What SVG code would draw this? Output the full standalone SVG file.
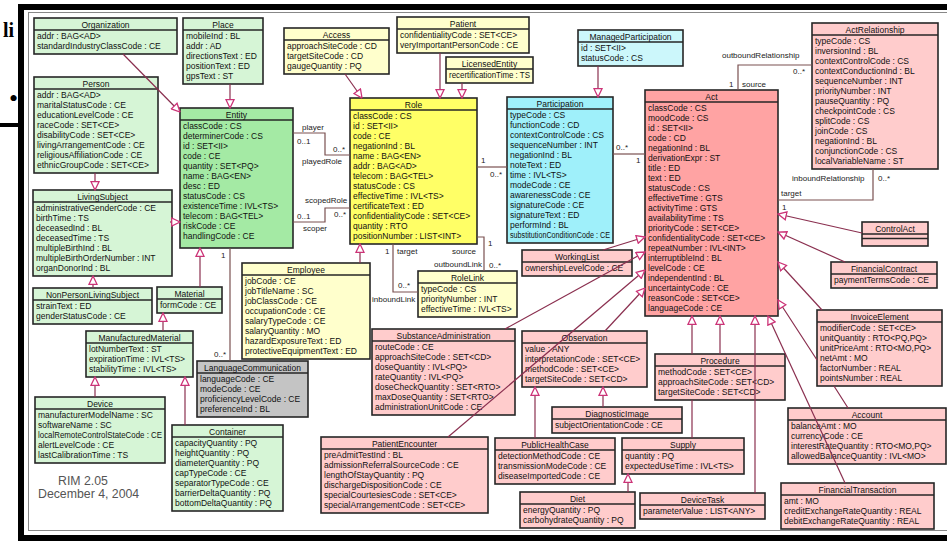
<svg xmlns="http://www.w3.org/2000/svg" width="947" height="541" viewBox="0 0 947 541">
<style>
  .node rect { stroke: #262626; stroke-width: 1.6; }
  .node path { stroke: #262626; stroke-width: 1.3; fill: none; }
  .g rect { fill: #d6f5d6; }
  .ge rect { fill: #a4eaa4; }
  .y rect { fill: #ffffcc; }
  .yr rect { fill: #ffff66; }
  .c rect { fill: #ccf7fb; }
  .cp rect { fill: #9ff0fa; }
  .p rect { fill: #ffcccc; }
  .pa rect { fill: #ffa3a3; }
  .gr rect { fill: #c4c4c4; }
  text.h, text.a { font-family: "Liberation Sans", Arial, sans-serif; font-size: 8.5px; fill: #111; }
  text.h { text-anchor: middle; }
  .gen { stroke: #8a2f4f; stroke-width: 1.2; fill: none; marker-end: url(#tri); }
  .asc { stroke: #7a5050; stroke-width: 1.2; fill: none; }
  .lb { font-family: "Liberation Sans", Arial, sans-serif; font-size: 8px; fill: #222; }
  .note { font-family: "Liberation Sans", Arial, sans-serif; font-size: 12.3px; fill: #555; }
</style>
<defs>
  <marker id="tri" markerUnits="userSpaceOnUse" markerWidth="10" markerHeight="10" viewBox="0 0 10 10" refX="9.3" refY="5" orient="auto">
    <path d="M1,1 L9.3,5 L1,9 Z" fill="#fff" stroke="#cc3377" stroke-width="1.3"/>
  </marker>
</defs>

<!-- page background and slide remnants -->
<rect width="947" height="541" fill="#fff"/>
<text x="3" y="37" font-family="Liberation Serif, serif" font-weight="bold" font-size="20" fill="#000">li</text>
<text x="9" y="107" font-family="Liberation Serif, serif" font-size="26" fill="#000">•</text>
<rect x="0" y="123" width="22" height="4" fill="#000"/>

<!-- frame -->
<rect x="21" y="7" width="935" height="531" fill="#fff" stroke="#000" stroke-width="6"/>
<rect x="28.5" y="12.5" width="925" height="518" fill="none" stroke="#888" stroke-width="1"/>

<!-- Entity hierarchy -->
<g id="n-organization" class="node g" transform="translate(34 18)"><rect width="143" height="36"/><path d="M0 12H143"/><text class="h" x="71.5" y="9.5">Organization</text><text class="a" y="21"><tspan x="3">addr : BAG&lt;AD&gt;</tspan><tspan x="3" dy="10">standardIndustryClassCode : CE</tspan></text></g>

<g id="n-person" class="node g" transform="translate(34 77)"><rect width="124" height="96"/><path d="M0 12H124"/><text class="h" x="62" y="9.5">Person</text><text class="a" y="21"><tspan x="3">addr : BAG&lt;AD&gt;</tspan><tspan x="3" dy="10">maritalStatusCode : CE</tspan><tspan x="3" dy="10">educationLevelCode : CE</tspan><tspan x="3" dy="10">raceCode : SET&lt;CE&gt;</tspan><tspan x="3" dy="10">disabilityCode : SET&lt;CE&gt;</tspan><tspan x="3" dy="10">livingArrangementCode : CE</tspan><tspan x="3" dy="10">religiousAffiliationCode : CE</tspan><tspan x="3" dy="10">ethnicGroupCode : SET&lt;CE&gt;</tspan></text></g>

<g id="n-place" class="node g" transform="translate(183 18)"><rect width="80" height="66"/><path d="M0 12H80"/><text class="h" x="40" y="9.5">Place</text><text class="a" y="21"><tspan x="3">mobileInd : BL</tspan><tspan x="3" dy="10">addr : AD</tspan><tspan x="3" dy="10">directionsText : ED</tspan><tspan x="3" dy="10">positionText : ED</tspan><tspan x="3" dy="10">gpsText : ST</tspan></text></g>

<g id="n-entity" class="node ge" transform="translate(180 108)"><rect width="113" height="140"/><path d="M0 12H113"/><text class="h" x="56.5" y="9.5">Entity</text><text class="a" y="21"><tspan x="3">classCode : CS</tspan><tspan x="3" dy="10">determinerCode : CS</tspan><tspan x="3" dy="10">id : SET&lt;II&gt;</tspan><tspan x="3" dy="10">code : CE</tspan><tspan x="3" dy="10">quantity : SET&lt;PQ&gt;</tspan><tspan x="3" dy="10">name : BAG&lt;EN&gt;</tspan><tspan x="3" dy="10">desc : ED</tspan><tspan x="3" dy="10">statusCode : CS</tspan><tspan x="3" dy="10">existenceTime : IVL&lt;TS&gt;</tspan><tspan x="3" dy="10">telecom : BAG&lt;TEL&gt;</tspan><tspan x="3" dy="10">riskCode : CE</tspan><tspan x="3" dy="10">handlingCode : CE</tspan></text></g>

<g id="n-livingSubject" class="node g" transform="translate(33 190)"><rect width="139" height="86"/><path d="M0 12H139"/><text class="h" x="69.5" y="9.5">LivingSubject</text><text class="a" y="21"><tspan x="3">administrativeGenderCode : CE</tspan><tspan x="3" dy="10">birthTime : TS</tspan><tspan x="3" dy="10">deceasedInd : BL</tspan><tspan x="3" dy="10">deceasedTime : TS</tspan><tspan x="3" dy="10">multipleBirthInd : BL</tspan><tspan x="3" dy="10">multipleBirthOrderNumber : INT</tspan><tspan x="3" dy="10">organDonorInd : BL</tspan></text></g>

<g id="n-nonPersonLivingSubject" class="node g" transform="translate(33 288)"><rect width="119" height="36"/><path d="M0 12H119"/><text class="h" x="59.5" y="9.5">NonPersonLivingSubject</text><text class="a" y="21"><tspan x="3">strainText : ED</tspan><tspan x="3" dy="10">genderStatusCode : CE</tspan></text></g>

<g id="n-material" class="node g" transform="translate(157 287)"><rect width="65" height="26"/><path d="M0 12H65"/><text class="h" x="32.5" y="9.5">Material</text><text class="a" y="21"><tspan x="3">formCode : CE</tspan></text></g>

<g id="n-manufacturedMaterial" class="node g" transform="translate(86 331)"><rect width="107" height="46"/><path d="M0 12H107"/><text class="h" x="53.5" y="9.5">ManufacturedMaterial</text><text class="a" y="21"><tspan x="3">lotNumberText : ST</tspan><tspan x="3" dy="10">expirationTime : IVL&lt;TS&gt;</tspan><tspan x="3" dy="10">stabilityTime : IVL&lt;TS&gt;</tspan></text></g>

<g id="n-device" class="node g" transform="translate(35 397)"><rect width="130" height="66"/><path d="M0 12H130"/><text class="h" x="65" y="9.5">Device</text><text class="a" y="21"><tspan x="3">manufacturerModelName : SC</tspan><tspan x="3" dy="10">softwareName : SC</tspan><tspan x="3" dy="10" textLength="124" lengthAdjust="spacingAndGlyphs">localRemoteControlStateCode : CE</tspan><tspan x="3" dy="10">alertLevelCode : CE</tspan><tspan x="3" dy="10">lastCalibrationTime : TS</tspan></text></g>

<g id="n-container" class="node g" transform="translate(172 425)"><rect width="111" height="86"/><path d="M0 12H111"/><text class="h" x="55.5" y="9.5">Container</text><text class="a" y="21"><tspan x="3">capacityQuantity : PQ</tspan><tspan x="3" dy="10">heightQuantity : PQ</tspan><tspan x="3" dy="10">diameterQuantity : PQ</tspan><tspan x="3" dy="10">capTypeCode : CE</tspan><tspan x="3" dy="10">separatorTypeCode : CE</tspan><tspan x="3" dy="10">barrierDeltaQuantity : PQ</tspan><tspan x="3" dy="10">bottomDeltaQuantity : PQ</tspan></text></g>

<g id="n-languageCommunication" class="node gr" transform="translate(197 361)"><rect width="111" height="56"/><path d="M0 12H111"/><text class="h" x="55.5" y="9.5">LanguageCommunication</text><text class="a" y="21"><tspan x="3">languageCode : CE</tspan><tspan x="3" dy="10">modeCode : CE</tspan><tspan x="3" dy="10">proficiencyLevelCode : CE</tspan><tspan x="3" dy="10">preferenceInd : BL</tspan></text></g>

<!-- Role hierarchy -->
<g id="n-access" class="node y" transform="translate(284 28)"><rect width="105" height="46"/><path d="M0 12H105"/><text class="h" x="52.5" y="9.5">Access</text><text class="a" y="21"><tspan x="3">approachSiteCode : CD</tspan><tspan x="3" dy="10">targetSiteCode : CD</tspan><tspan x="3" dy="10">gaugeQuantity : PQ</tspan></text></g>

<g id="n-patient" class="node y" transform="translate(397 17)"><rect width="132" height="36"/><path d="M0 12H132"/><text class="h" x="66" y="9.5">Patient</text><text class="a" y="21"><tspan x="3">confidentialityCode : SET&lt;CE&gt;</tspan><tspan x="3" dy="10">veryImportantPersonCode : CE</tspan></text></g>

<g id="n-licensedEntity" class="node y" transform="translate(446 57)"><rect width="87" height="26"/><path d="M0 12H87"/><text class="h" x="43.5" y="9.5">LicensedEntity</text><text class="a" y="21"><tspan x="3" textLength="81" lengthAdjust="spacingAndGlyphs">recertificationTime : TS</tspan></text></g>

<g id="n-role" class="node yr" transform="translate(350 98)"><rect width="127" height="146"/><path d="M0 12H127"/><text class="h" x="63.5" y="9.5">Role</text><text class="a" y="21"><tspan x="3">classCode : CS</tspan><tspan x="3" dy="10">id : SET&lt;II&gt;</tspan><tspan x="3" dy="10">code : CE</tspan><tspan x="3" dy="10">negationInd : BL</tspan><tspan x="3" dy="10">name : BAG&lt;EN&gt;</tspan><tspan x="3" dy="10">addr : BAG&lt;AD&gt;</tspan><tspan x="3" dy="10">telecom : BAG&lt;TEL&gt;</tspan><tspan x="3" dy="10">statusCode : CS</tspan><tspan x="3" dy="10">effectiveTime : IVL&lt;TS&gt;</tspan><tspan x="3" dy="10">certificateText : ED</tspan><tspan x="3" dy="10">confidentialityCode : SET&lt;CE&gt;</tspan><tspan x="3" dy="10">quantity : RTO</tspan><tspan x="3" dy="10">positionNumber : LIST&lt;INT&gt;</tspan></text></g>

<g id="n-employee" class="node y" transform="translate(242 263)"><rect width="128" height="96"/><path d="M0 12H128"/><text class="h" x="64" y="9.5">Employee</text><text class="a" y="21"><tspan x="3">jobCode : CE</tspan><tspan x="3" dy="10">jobTitleName : SC</tspan><tspan x="3" dy="10">jobClassCode : CE</tspan><tspan x="3" dy="10">occupationCode : CE</tspan><tspan x="3" dy="10">salaryTypeCode : CE</tspan><tspan x="3" dy="10">salaryQuantity : MO</tspan><tspan x="3" dy="10">hazardExposureText : ED</tspan><tspan x="3" dy="10">protectiveEquipmentText : ED</tspan></text></g>

<g id="n-roleLink" class="node y" transform="translate(418 271)"><rect width="99" height="46"/><path d="M0 12H99"/><text class="h" x="49.5" y="9.5">RoleLink</text><text class="a" y="21"><tspan x="3">typeCode : CS</tspan><tspan x="3" dy="10">priorityNumber : INT</tspan><tspan x="3" dy="10">effectiveTime : IVL&lt;TS&gt;</tspan></text></g>

<!-- Participation -->
<g id="n-managedParticipation" class="node c" transform="translate(578 30)"><rect width="105" height="36"/><path d="M0 12H105"/><text class="h" x="52.5" y="9.5">ManagedParticipation</text><text class="a" y="21"><tspan x="3">id : SET&lt;II&gt;</tspan><tspan x="3" dy="10">statusCode : CS</tspan></text></g>

<g id="n-participation" class="node cp" transform="translate(507 97)"><rect width="106" height="146"/><path d="M0 12H106"/><text class="h" x="53" y="9.5">Participation</text><text class="a" y="21"><tspan x="3">typeCode : CS</tspan><tspan x="3" dy="10">functionCode : CD</tspan><tspan x="3" dy="10">contextControlCode : CS</tspan><tspan x="3" dy="10">sequenceNumber : INT</tspan><tspan x="3" dy="10">negationInd : BL</tspan><tspan x="3" dy="10">noteText : ED</tspan><tspan x="3" dy="10">time : IVL&lt;TS&gt;</tspan><tspan x="3" dy="10">modeCode : CE</tspan><tspan x="3" dy="10">awarenessCode : CE</tspan><tspan x="3" dy="10">signatureCode : CE</tspan><tspan x="3" dy="10">signatureText : ED</tspan><tspan x="3" dy="10">performInd : BL</tspan><tspan x="3" dy="10" textLength="100" lengthAdjust="spacingAndGlyphs">substitutionConditionCode : CE</tspan></text></g>

<!-- Act hierarchy -->
<g id="n-act" class="node pa" transform="translate(645 90)"><rect width="133" height="226"/><path d="M0 12H133"/><text class="h" x="66.5" y="9.5">Act</text><text class="a" y="21"><tspan x="3">classCode : CS</tspan><tspan x="3" dy="10">moodCode : CS</tspan><tspan x="3" dy="10">id : SET&lt;II&gt;</tspan><tspan x="3" dy="10">code : CD</tspan><tspan x="3" dy="10">negationInd : BL</tspan><tspan x="3" dy="10">derivationExpr : ST</tspan><tspan x="3" dy="10">title : ED</tspan><tspan x="3" dy="10">text : ED</tspan><tspan x="3" dy="10">statusCode : CS</tspan><tspan x="3" dy="10">effectiveTime : GTS</tspan><tspan x="3" dy="10">activityTime : GTS</tspan><tspan x="3" dy="10">availabilityTime : TS</tspan><tspan x="3" dy="10">priorityCode : SET&lt;CE&gt;</tspan><tspan x="3" dy="10">confidentialityCode : SET&lt;CE&gt;</tspan><tspan x="3" dy="10">repeatNumber : IVL&lt;INT&gt;</tspan><tspan x="3" dy="10">interruptibleInd : BL</tspan><tspan x="3" dy="10">levelCode : CE</tspan><tspan x="3" dy="10">independentInd : BL</tspan><tspan x="3" dy="10">uncertaintyCode : CE</tspan><tspan x="3" dy="10">reasonCode : SET&lt;CE&gt;</tspan><tspan x="3" dy="10">languageCode : CE</tspan></text></g>

<g id="n-actRelationship" class="node p" transform="translate(812 23)"><rect width="126" height="146"/><path d="M0 12H126"/><text class="h" x="63" y="9.5">ActRelationship</text><text class="a" y="21"><tspan x="3">typeCode : CS</tspan><tspan x="3" dy="10">inversionInd : BL</tspan><tspan x="3" dy="10">contextControlCode : CS</tspan><tspan x="3" dy="10">contextConductionInd : BL</tspan><tspan x="3" dy="10">sequenceNumber : INT</tspan><tspan x="3" dy="10">priorityNumber : INT</tspan><tspan x="3" dy="10">pauseQuantity : PQ</tspan><tspan x="3" dy="10">checkpointCode : CS</tspan><tspan x="3" dy="10">splitCode : CS</tspan><tspan x="3" dy="10">joinCode : CS</tspan><tspan x="3" dy="10">negationInd : BL</tspan><tspan x="3" dy="10">conjunctionCode : CS</tspan><tspan x="3" dy="10">localVariableName : ST</tspan></text></g>

<g id="n-controlAct" class="node p" transform="translate(862 222)"><rect width="66" height="24"/><path d="M0 12H66M0 16.5H66"/><text class="h" x="33" y="9.5">ControlAct</text></g>

<g id="n-financialContract" class="node p" transform="translate(831 262)"><rect width="106" height="26"/><path d="M0 12H106"/><text class="h" x="53" y="9.5">FinancialContract</text><text class="a" y="21"><tspan x="3">paymentTermsCode : CE</tspan></text></g>

<g id="n-invoiceElement" class="node p" transform="translate(817 310)"><rect width="125" height="76"/><path d="M0 12H125"/><text class="h" x="62.5" y="9.5">InvoiceElement</text><text class="a" y="21"><tspan x="3">modifierCode : SET&lt;CE&gt;</tspan><tspan x="3" dy="10">unitQuantity : RTO&lt;PQ,PQ&gt;</tspan><tspan x="3" dy="10">unitPriceAmt : RTO&lt;MO,PQ&gt;</tspan><tspan x="3" dy="10">netAmt : MO</tspan><tspan x="3" dy="10">factorNumber : REAL</tspan><tspan x="3" dy="10">pointsNumber : REAL</tspan></text></g>

<g id="n-account" class="node p" transform="translate(788 408)"><rect width="158" height="56"/><path d="M0 12H158"/><text class="h" x="79" y="9.5">Account</text><text class="a" y="21"><tspan x="3">balanceAmt : MO</tspan><tspan x="3" dy="10">currencyCode : CE</tspan><tspan x="3" dy="10">interestRateQuantity : RTO&lt;MO,PQ&gt;</tspan><tspan x="3" dy="10">allowedBalanceQuantity : IVL&lt;MO&gt;</tspan></text></g>

<g id="n-financialTransaction" class="node p" transform="translate(781 483)"><rect width="153" height="46"/><path d="M0 12H153"/><text class="h" x="76.5" y="9.5">FinancialTransaction</text><text class="a" y="21"><tspan x="3">amt : MO</tspan><tspan x="3" dy="10">creditExchangeRateQuantity : REAL</tspan><tspan x="3" dy="10">debitExchangeRateQuantity : REAL</tspan></text></g>

<g id="n-procedure" class="node p" transform="translate(655 354)"><rect width="130" height="46"/><path d="M0 12H130"/><text class="h" x="65" y="9.5">Procedure</text><text class="a" y="21"><tspan x="3">methodCode : SET&lt;CE&gt;</tspan><tspan x="3" dy="10">approachSiteCode : SET&lt;CD&gt;</tspan><tspan x="3" dy="10">targetSiteCode : SET&lt;CD&gt;</tspan></text></g>

<g id="n-supply" class="node p" transform="translate(622 438)"><rect width="122" height="36"/><path d="M0 12H122"/><text class="h" x="61" y="9.5">Supply</text><text class="a" y="21"><tspan x="3">quantity : PQ</tspan><tspan x="3" dy="10">expectedUseTime : IVL&lt;TS&gt;</tspan></text></g>

<g id="n-diet" class="node p" transform="translate(520 492)"><rect width="115" height="36"/><path d="M0 12H115"/><text class="h" x="57.5" y="9.5">Diet</text><text class="a" y="21"><tspan x="3">energyQuantity : PQ</tspan><tspan x="3" dy="10">carbohydrateQuantity : PQ</tspan></text></g>

<g id="n-deviceTask" class="node p" transform="translate(640 493)"><rect width="125" height="26"/><path d="M0 12H125"/><text class="h" x="62.5" y="9.5">DeviceTask</text><text class="a" y="21"><tspan x="3">parameterValue : LIST&lt;ANY&gt;</tspan></text></g>

<g id="n-publicHealthCase" class="node p" transform="translate(495 438)"><rect width="120" height="46"/><path d="M0 12H120"/><text class="h" x="60" y="9.5">PublicHealthCase</text><text class="a" y="21"><tspan x="3">detectionMethodCode : CE</tspan><tspan x="3" dy="10">transmissionModeCode : CE</tspan><tspan x="3" dy="10">diseaseImportedCode : CE</tspan></text></g>

<g id="n-diagnosticImage" class="node p" transform="translate(552 407)"><rect width="130" height="26"/><path d="M0 12H130"/><text class="h" x="65" y="9.5">DiagnosticImage</text><text class="a" y="21"><tspan x="3">subjectOrientationCode : CE</tspan></text></g>

<g id="n-observation" class="node p" transform="translate(522 331)"><rect width="125" height="56"/><path d="M0 12H125"/><text class="h" x="62.5" y="9.5">Observation</text><text class="a" y="21"><tspan x="3">value : ANY</tspan><tspan x="3" dy="10">interpretationCode : SET&lt;CE&gt;</tspan><tspan x="3" dy="10">methodCode : SET&lt;CE&gt;</tspan><tspan x="3" dy="10">targetSiteCode : SET&lt;CD&gt;</tspan></text></g>

<g id="n-workingList" class="node p" transform="translate(522 250)"><rect width="110" height="26"/><path d="M0 12H110"/><text class="h" x="55" y="9.5">WorkingList</text><text class="a" y="21"><tspan x="3">ownershipLevelCode : CE</tspan></text></g>

<g id="n-substanceAdministration" class="node p" transform="translate(372 329)"><rect width="143" height="86"/><path d="M0 12H143"/><text class="h" x="71.5" y="9.5">SubstanceAdministration</text><text class="a" y="21"><tspan x="3">routeCode : CE</tspan><tspan x="3" dy="10">approachSiteCode : SET&lt;CD&gt;</tspan><tspan x="3" dy="10">doseQuantity : IVL&lt;PQ&gt;</tspan><tspan x="3" dy="10">rateQuantity : IVL&lt;PQ&gt;</tspan><tspan x="3" dy="10">doseCheckQuantity : SET&lt;RTO&gt;</tspan><tspan x="3" dy="10">maxDoseQuantity : SET&lt;RTO&gt;</tspan><tspan x="3" dy="10">administrationUnitCode : CE</tspan></text></g>

<g id="n-patientEncounter" class="node p" transform="translate(321 437)"><rect width="167" height="76"/><path d="M0 12H167"/><text class="h" x="83.5" y="9.5">PatientEncounter</text><text class="a" y="21"><tspan x="3">preAdmitTestInd : BL</tspan><tspan x="3" dy="10">admissionReferralSourceCode : CE</tspan><tspan x="3" dy="10">lengthOfStayQuantity : PQ</tspan><tspan x="3" dy="10">dischargeDispositionCode : CE</tspan><tspan x="3" dy="10">specialCourtesiesCode : SET&lt;CE&gt;</tspan><tspan x="3" dy="10">specialArrangementCode : SET&lt;CE&gt;</tspan></text></g>

<!-- connectors: generalizations, associations and their role labels -->
<g id="connectors">
  <path class="gen" d="M123,54 L180,112"/>
  <path class="gen" d="M95,173 L95,190"/>
  <path class="gen" d="M230,84 L230,108"/>
  <path class="gen" d="M170,222 L180,222"/>
  <path class="gen" d="M93,288 L93,276"/>
  <path class="gen" d="M200,287 L200,248"/>
  <path class="gen" d="M163,331 L163,313"/>
  <path class="gen" d="M95,397 L95,377"/>
  <path class="gen" d="M185,425 L185,377"/>
  <path class="gen" d="M345,74 L362,98"/>
  <path class="gen" d="M440,53 L440,98"/>
  <path class="gen" d="M462,83 L462,98"/>
  <path class="gen" d="M360,263 L360,244"/>
  <path class="gen" d="M598,66 L598,97"/>
  <path class="gen" d="M862,233 L778,214"/>
  <path class="gen" d="M845,262 L778,232"/>
  <path class="gen" d="M822,310 L778,262"/>
  <path class="gen" d="M848,408 L834,386 M817,360 L778,300"/>
  <path class="gen" d="M845,483 L768,316"/>
  <path class="gen" d="M755,493 L755,316"/>
  <path class="gen" d="M720,354 L720,316"/>
  <path class="gen" d="M692,438 L692,400 M692,354 L692,316"/>
  <path class="gen" d="M628,492 L628,474"/>
  <path class="gen" d="M603,250 L645,237"/>
  <path class="gen" d="M505,329 L645,252"/>
  <path class="gen" d="M448,437 L645,270"/>
  <path class="gen" d="M605,331 L645,288"/>
  <path class="gen" d="M603,407 L603,387"/>
  <path class="gen" d="M535,438 L535,387"/>

  <path class="asc" d="M293,133 H325 V155 H350"/>
  <path class="asc" d="M293,222 H325 V208 H350"/>
  <path class="asc" d="M477,167 H507"/>
  <path class="asc" d="M613,154 H645"/>
  <path class="asc" d="M393,244 V292 H418"/>
  <path class="asc" d="M477,237 H484 V271"/>
  <path class="asc" d="M230,248 V361"/>
  <path class="asc" d="M738,90 V65 H812"/>
  <path class="asc" d="M873,169 V200 H778"/>

  <text class="lb" x="302" y="130">player</text>
  <text class="lb" x="297" y="144">0..1</text>
  <text class="lb" x="333" y="152">0..*</text>
  <text class="lb" x="302" y="164">playedRole</text>
  <text class="lb" x="305" y="203">scopedRole</text>
  <text class="lb" x="334" y="217">0..*</text>
  <text class="lb" x="297" y="219">0..1</text>
  <text class="lb" x="303" y="231">scoper</text>
  <text class="lb" x="481" y="163">1</text>
  <text class="lb" x="490" y="177">0..*</text>
  <text class="lb" x="616" y="150">0..*</text>
  <text class="lb" x="636" y="163">1</text>
  <text class="lb" x="385" y="254">1</text>
  <text class="lb" x="397" y="254">target</text>
  <text class="lb" x="398" y="288">0..*</text>
  <text class="lb" x="372" y="302">inboundLink</text>
  <text class="lb" x="452" y="254">source</text>
  <text class="lb" x="488" y="246">1</text>
  <text class="lb" x="434" y="267">outboundLink</text>
  <text class="lb" x="489" y="268">0..*</text>
  <text class="lb" x="221" y="258">1</text>
  <text class="lb" x="214" y="357">0..*</text>
  <text class="lb" x="722" y="58">outboundRelationship</text>
  <text class="lb" x="793" y="74">0..*</text>
  <text class="lb" x="729" y="87">1</text>
  <text class="lb" x="742" y="87">source</text>
  <text class="lb" x="792" y="181">inboundRelationship</text>
  <text class="lb" x="878" y="181">0..*</text>
  <text class="lb" x="781" y="196">target</text>
  <text class="lb" x="782" y="210">1</text>
</g>

<text class="note" x="58" y="485">RIM 2.05</text>
<text class="note" x="38" y="498">December 4, 2004</text>
</svg>
